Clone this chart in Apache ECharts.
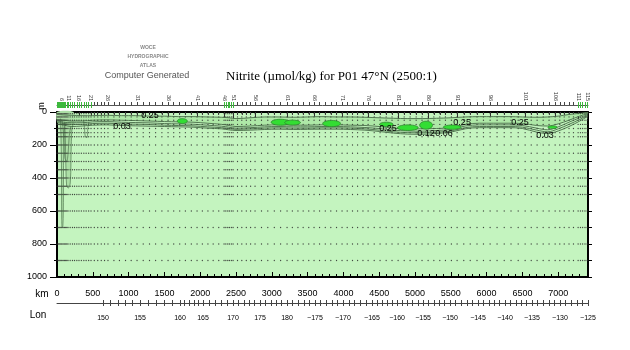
<!DOCTYPE html>
<html><head><meta charset="utf-8">
<script src="https://cdn.jsdelivr.net/npm/echarts@6/dist/echarts.min.js"></script>
<style>html,body{margin:0;padding:0;background:#fff}#c{width:630px;height:350px}</style>
</head><body><div id="c"></div>
<script>
// ---------------- DATA ----------------
const KM_MAX = 7416;
const stationKm = [0,14,27,41,56,70,86,103,121,137,154,184,216,245,277,307,340,375,407,442,475,521,569,618,664,712,795,872,957,1036,1118,1204,1292,1377,1465,1551,1630,1714,1793,1876,1956,2030,2108,2181,2259,2333,2358,2385,2408,2435,2459,2521,2581,2644,2704,2766,2856,2944,3035,3123,3213,3287,3365,3438,3516,3590,3667,3747,3824,3904,3981,4053,4127,4198,4273,4345,4430,4512,4597,4679,4764,4849,4931,5016,5098,5183,5263,5346,5425,5508,5588,5681,5771,5866,5956,6049,6146,6246,6341,6441,6538,6623,6705,6790,6872,6957,7022,7084,7151,7213,7278,7311,7341,7374,7404];
const labeledStations = [1,6,11,16,21,26,31,36,41,46,51,56,61,66,71,76,81,86,91,96,101,106,111,115];
const sampleDepths = [10,30,50,75,100,125,150,200,250,300,350,400,450,500,600,700,800,900];

const depthTicks = [0,200,400,600,800,1000];
const kmTicks = [0,500,1000,1500,2000,2500,3000,3500,4000,4500,5000,5500,6000,6500,7000];
const lonLabels = ['150','155','160','165','170','175','180','\u2212175','\u2212170','\u2212165','\u2212160','\u2212155','\u2212150','\u2212145','\u2212140','\u2212135','\u2212130','\u2212125'];
const lonKm = [642,1159,1718,2039,2458,2835,3212,3603,3994,4399,4749,5112,5489,5880,6257,6634,7025,7416];

// isoline depths (m) along the section
const kmGrid = [0,100,200,350,500,700,900,1100,1300,1500,1700,1900,2100,2300,2400,2500,2700,2900,3100,3300,3500,3700,3900,4100,4300,4500,4700,4900,5100,5300,5500,5700,5900,6100,6300,6500,6700,6850,7000,7150,7300,7416];
const iso025upper = [15,18,20,22,22,20,22,22,25,25,28,28,30,32,35,40,35,30,30,32,30,28,30,30,32,35,38,40,40,38,35,30,28,28,28,30,32,30,25,15,8,3];
const iso025 = [45,50,55,55,50,48,50,52,55,58,60,62,68,75,82,88,85,80,78,80,80,78,78,80,82,88,98,102,102,100,95,75,68,68,68,70,82,85,72,50,25,10];
const iso012 = [55,62,65,65,60,58,62,64,66,70,72,74,80,86,92,98,95,90,88,90,90,88,88,90,94,100,110,115,116,112,105,85,78,78,78,82,98,108,90,62,35,15];
const iso006 = [62,70,75,75,70,68,72,74,76,80,82,84,90,95,100,105,102,98,96,98,98,96,96,98,102,110,120,125,126,122,115,95,88,88,88,92,110,120,102,75,45,20];
const iso003 = [72,80,88,85,80,78,82,84,86,88,90,92,98,102,108,112,110,106,104,106,105,104,104,106,110,118,128,134,135,130,122,102,95,95,95,100,122,130,115,88,55,25];

// deep tongues of the western end: [km, depth]
const tongueA = [[48,40],[55,150],[62,300],[64,500],[66,650],[72,700],[82,690],[88,600],[90,400],[94,250],[100,120],[112,80]];
const tongueB = [[105,60],[115,150],[120,250],[125,350],[135,450],[160,460],[185,430],[195,300],[200,180],[210,100],[230,70]];
const tongueC = [[370,50],[385,100],[395,150],[420,155],[430,100],[445,60]];
const tongueD = [[70,50],[85,100],[100,200],[110,280],[135,300],[155,250],[170,150],[190,90]];

// maxima patches: centre km, centre depth, half width km, half height m
const patchKm = [1750,3120,3290,3835,4600,4900,5155,5520,6920];
const patchDepth = [55,62,64,70,75,95,80,92,92];
const patchHalfKm = [70,130,110,125,95,145,90,125,65];
const patchHalfDepth = [15,18,15,19,13,17,24,13,8];

// contour labels
const labelText = ['0.25','0.03','0.25','0.12','0.06','0.25','0.25','0.03'];
const labelKm = [1299,908,4624,5155,5406,5658,6468,6817];
const labelDepth = [24,91,103,133,133,61,61,143];

// ---------------- CHART ----------------
const FONT = 'Liberation Sans';
const labeledKm = labeledStations.map(n => stationKm[n-1]);
const denseKm = stationKm.filter((k,i)=>{
  const gp = i>0 ? k-stationKm[i-1] : 999, gn = i<stationKm.length-1 ? stationKm[i+1]-k : 999;
  return Math.min(gp,gn) < 40;
});
const normalKm = stationKm.filter(k => denseKm.indexOf(k) < 0);

// longitude ticks every degree between labelled longitudes (axis decoration)
const lonTickKm = [];
for (let i=0;i<lonKm.length-1;i++){ for(let j=0;j<5;j++){ lonTickKm.push(Math.round(lonKm[i]+(lonKm[i+1]-lonKm[i])*j/5)); } }
lonTickKm.push(lonKm[lonKm.length-1]);

const dots = [];
stationKm.forEach(k => sampleDepths.forEach(d => dots.push([k,d])));

function polyPts(xs, ys){ return xs.map((x,i)=>[x,ys[i]]); }
const upperZone = polyPts(kmGrid, iso025upper).concat(polyPts(kmGrid, iso025).reverse());
const leftZone = [[0,0],[230,0],[230,70],[210,100],[200,180],[195,300],[185,430],[160,460],[135,450],[120,250],[100,150],[94,250],[90,400],[88,600],[72,700],[66,650],[62,300],[50,100],[20,70],[0,60]];

function polygonSeries(pts, fill, z){
  return {type:'custom', coordinateSystem:'cartesian2d', xAxisIndex:0, yAxisIndex:0, silent:true, z:z,
    data:[pts[0]],
    renderItem:function(params, api){
      return {type:'polygon', shape:{points:pts.map(p=>api.coord(p)), smooth:0.25}, style:{fill:fill, stroke:null}};
    }};
}
function lineSeries(pts, z, op){
  return {type:'line', xAxisIndex:0, yAxisIndex:0, data:pts, showSymbol:false, symbol:'none', smooth:0.35, silent:true, z:z,
    lineStyle:{color:'#3f633f', width:1, opacity:op}};
}

const bandLines = [
  polyPts(kmGrid, iso025upper), polyPts(kmGrid, iso025), polyPts(kmGrid, iso012),
  polyPts(kmGrid, iso006), polyPts(kmGrid, iso003)
];
const tongueLines = [tongueA, tongueB, tongueC, tongueD];

const baseXAxis = {type:'value', min:0, max:KM_MAX, splitLine:{show:false}};

const option = {
  animation:false,
  backgroundColor:'#ffffff',
  title:{text:'Nitrite (\u00b5mol/kg) for P01 47\u00b0N (2500:1)', left:221, top:65,
    textStyle:{fontFamily:'Liberation Serif', fontSize:13, fontWeight:'normal', color:'#000'}},
  graphic:[
    {type:'text', x:148, y:48, style:{text:'WOCE', fontSize:5, fontWeight:'bold', fill:'#888', align:'center', verticalAlign:'middle', fontFamily:FONT}},
    {type:'text', x:148, y:57, style:{text:'HYDROGRAPHIC', fontSize:5, fontWeight:'bold', fill:'#888', align:'center', verticalAlign:'middle', fontFamily:FONT}},
    {type:'text', x:148, y:66, style:{text:'ATLAS', fontSize:5, fontWeight:'bold', fill:'#888', align:'center', verticalAlign:'middle', fontFamily:FONT}},
    {type:'text', x:147, y:76, style:{text:'Computer Generated', fontSize:9, fill:'#555', align:'center', verticalAlign:'middle', fontFamily:FONT}},
    {type:'text', x:42, y:106, rotation:Math.PI/2, style:{text:'m', fontSize:9, fill:'#000', align:'center', verticalAlign:'middle', fontFamily:FONT}},
    {type:'text', x:42, y:294, style:{text:'km', fontSize:10, fill:'#000', align:'center', verticalAlign:'middle', fontFamily:FONT}},
    {type:'text', x:38, y:315, style:{text:'Lon', fontSize:10, fill:'#000', align:'center', verticalAlign:'middle', fontFamily:FONT}}
  ],
  grid:[
    {left:57, right:42, top:112, bottom:73, show:true, backgroundColor:'#c4f4bf', borderWidth:0},
    {left:57, right:42, top:298, height:5, show:false}
  ],
  xAxis:[
    Object.assign({}, baseXAxis, {gridIndex:0, position:'bottom', interval:500,
      axisLine:{show:true, onZero:false, lineStyle:{color:'#000', width:2}},
      axisTick:{show:true, inside:true, length:5, lineStyle:{color:'#000'}},
      minorTick:{show:true, splitNumber:5, length:3, lineStyle:{color:'#000'}},
      axisLabel:{margin:12, fontSize:9, fontFamily:FONT, color:'#000', formatter:v=> kmTicks.indexOf(v)>=0 ? String(v) : '', showMaxLabel:false}}),
    Object.assign({}, baseXAxis, {gridIndex:0, position:'top', offset:0,
      axisLine:{show:true, onZero:false, lineStyle:{color:'#000', width:2}}, axisTick:{show:false}, axisLabel:{show:false}}),
    Object.assign({}, baseXAxis, {gridIndex:0, position:'top', offset:7,
      axisLine:{show:true, onZero:false, lineStyle:{color:'#555', width:1}},
      axisTick:{show:true, inside:false, length:3, customValues:normalKm, lineStyle:{color:'#444'}},
      axisLabel:{show:true, customValues:labeledKm, rotate:90, fontSize:5.5, margin:4, fontFamily:FONT, color:'#333',
        formatter:v=>{const i=labeledKm.indexOf(v); return i>=0? String(labeledStations[i]) : '';}}}),
    Object.assign({}, baseXAxis, {gridIndex:0, position:'top', offset:7,
      axisLine:{show:false}, axisTick:{show:true, inside:true, length:3, customValues:normalKm, lineStyle:{color:'#444'}}, axisLabel:{show:false}}),
    Object.assign({}, baseXAxis, {gridIndex:0, position:'top', offset:7,
      axisLine:{show:false}, axisTick:{show:true, inside:true, length:7, customValues:labeledKm, lineStyle:{color:'#333'}}, axisLabel:{show:false}}),
    Object.assign({}, baseXAxis, {gridIndex:0, position:'top', offset:7,
      axisLine:{show:false}, axisTick:{show:true, inside:false, length:3, customValues:denseKm, lineStyle:{color:'#3cb83c'}}, axisLabel:{show:false}}),
    Object.assign({}, baseXAxis, {gridIndex:0, position:'top', offset:7,
      axisLine:{show:false}, axisTick:{show:true, inside:true, length:3, customValues:denseKm, lineStyle:{color:'#3cb83c'}}, axisLabel:{show:false}}),
    Object.assign({}, baseXAxis, {gridIndex:1, position:'bottom',
      axisLine:{show:true, onZero:false, lineStyle:{color:'#444', width:1}},
      axisTick:{show:true, inside:false, length:3, customValues:lonTickKm, lineStyle:{color:'#444'}},
      axisLabel:{show:true, customValues:lonKm, margin:12, fontSize:7, fontFamily:FONT, color:'#000',
        formatter:v=>{const i=lonKm.indexOf(v); return i>=0? lonLabels[i] : '';}}}),
    Object.assign({}, baseXAxis, {gridIndex:1, position:'bottom',
      axisLine:{show:false}, axisTick:{show:true, inside:true, length:3, customValues:lonTickKm, lineStyle:{color:'#444'}}, axisLabel:{show:false}})
  ],
  yAxis:[
    {type:'value', gridIndex:0, inverse:true, min:0, max:1000, interval:200, position:'left',
      splitLine:{show:false},
      axisLine:{show:true, onZero:false, lineStyle:{color:'#000', width:2}},
      axisTick:{show:true, length:7, lineStyle:{color:'#000'}},
      minorTick:{show:true, splitNumber:2, length:3, lineStyle:{color:'#000'}},
      axisLabel:{margin:10, fontSize:9, fontFamily:FONT, color:'#000', formatter:v=> depthTicks.indexOf(v)>=0 ? String(v) : ''}},
    {type:'value', gridIndex:0, inverse:true, min:0, max:1000, interval:100, position:'right',
      splitLine:{show:false},
      axisLine:{show:true, onZero:false, lineStyle:{color:'#000', width:2}},
      axisTick:{show:true, length:4, lineStyle:{color:'#000'}}, axisLabel:{show:false}},
    {type:'value', gridIndex:1, show:false, min:0, max:1}
  ],
  series:[
    polygonSeries(upperZone, '#aee8a7', 1),
    polygonSeries(leftZone, '#acdfa6', 1),
    {type:'scatter', xAxisIndex:0, yAxisIndex:0, data:dots, symbolSize:1.3, silent:true, z:2,
      itemStyle:{color:'#2a2a2a', opacity:0.85}},
  ].concat(bandLines.map(p=>lineSeries(p,3,0.85))).concat(tongueLines.map(p=>lineSeries(p,3,0.6))).concat([
    {type:'custom', coordinateSystem:'cartesian2d', xAxisIndex:0, yAxisIndex:0, silent:true, z:4,
      data:patchKm.map((k,i)=>[k, patchDepth[i], patchHalfKm[i], patchHalfDepth[i]]),
      renderItem:function(params, api){
        const c = api.coord([api.value(0), api.value(1)]);
        const s = api.size([api.value(2), api.value(3)]);
        const pts = [];
        for (let a=0;a<28;a++){ const t=a/28*Math.PI*2; pts.push([c[0]+s[0]*Math.cos(t), c[1]+s[1]*Math.sin(t)]); }
        return {type:'polygon', shape:{points:pts}, style:{fill:'#33dd33', stroke:'#2f8a2f', lineWidth:0.8}};
      }},
    {type:'custom', coordinateSystem:'cartesian2d', xAxisIndex:0, yAxisIndex:0, silent:true, z:5,
      data:labelKm.map((k,i)=>[k, labelDepth[i], i]),
      renderItem:function(params, api){
        const c = api.coord([api.value(0), api.value(1)]);
        return {type:'text', x:c[0], y:c[1], style:{text:labelText[api.value(2)], fontSize:9, fontFamily:FONT, fill:'#000', align:'center', verticalAlign:'middle'}};
      }}
  ])
};
const chart = echarts.init(document.getElementById('c'), null, {renderer:'canvas'});
chart.setOption(option);
</script></body></html>
